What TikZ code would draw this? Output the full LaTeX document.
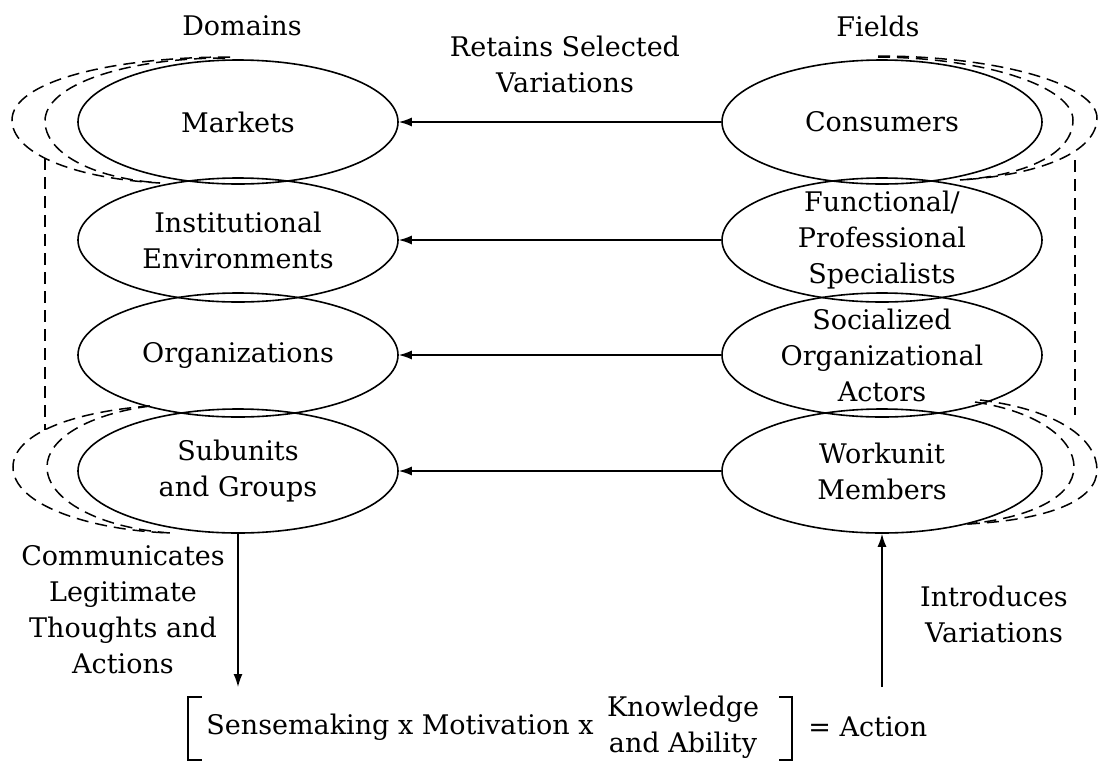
\documentclass[tikz,border=0pt]{standalone}
\usepackage{fontspec}
\setmainfont{DejaVu Serif}
\usetikzlibrary{shapes.geometric,arrows.meta,positioning}

\begin{document}
\begin{tikzpicture}[x=0.5pt,y=-0.5pt,
    elli/.style={draw, ellipse, line width=0.8pt, minimum width=160pt, minimum height=62pt, inner sep=0pt},
    lbl/.style={align=center, font=\fontsize{13.5}{18}\selectfont},
    arr/.style={line width=0.7pt, -{Latex[length=6.5pt,width=4.5pt]}},
    dsh/.style={line width=0.75pt, dash pattern=on 6pt off 3.5pt}]
                \useasboundingbox (0,0) rectangle (1099,762);
                % domains
                \node[elli] (mkt) at (238,122) {};
                \node[elli] (ins) at (238,240) {};
                \node[elli] (org) at (238,355) {};
                \node[elli] (sub) at (238,471) {};
                \node[lbl] (mkt-t) at (mkt) {Markets};
                \node[lbl] (ins-t) at (ins) {Institutional\\Environments};
                \node[lbl] (org-t) at (org) {Organizations};
                \node[lbl] (sub-t) at (sub) {Subunits\\and Groups};
                % fields
                \node[elli] (con) at (882,122) {};
                \node[elli] (fps) at (882,240) {};
                \node[elli] (soa) at (882,355) {};
                \node[elli] (wum) at (882,471) {};
                \node[lbl] (con-t) at (con) {Consumers};
                \node[lbl] (fps-t) at (fps) {Functional/\\Professional\\Specialists};
                \node[lbl] (soa-t) at (soa) {Socialized\\Organizational\\Actors};
                \node[lbl] (wum-t) at (wum) {Workunit\\Members};
                % headings
                \node[lbl] (dom) at (242,26) {Domains};
                \node[lbl] (fld) at (878,26) {Fields};
                \node[lbl] (ret) at (565,64) {Retains Selected\\Variations};
                \node[lbl] (comm) at (123,610) {Communicates\\Legitimate\\Thoughts and\\Actions};
                \node[lbl] (intro) at (994,614) {Introduces\\Variations};
                % retention
                \draw[arr] (con) -- (mkt);
                \draw[arr] (fps) -- (ins);
                \draw[arr] (soa) -- (org);
                \draw[arr] (wum) -- (sub);
                % action
                \coordinate (dn) at (238,687);
                \coordinate (up) at (882,687);
                \draw[arr] (sub) -- (dn);
                \draw[arr] (up) -- (wum);
                \node[lbl, anchor=base west, inner sep=0pt] (sens) at (206,734) {Sensemaking x Motivation x};
                \node[lbl, right=3pt of sens.east, anchor=west] (ka) {Knowledge\\and Ability};
                \node[lbl, anchor=base west, inner sep=0pt] (act) at (808,736) {= Action};
                \draw[line width=0.7pt] (202,697) -- (188,697) -- (188,760) -- (202,760);
                \draw[line width=0.7pt] (779,697) -- (792,697) -- (792,760) -- (779,760);
                % dashed loops
                \draw[dsh] (230,57) .. controls (110,57) and (12,82) .. (12,120) .. controls (12,152) and (70,178) .. (160,183);
                \draw[dsh] (225,58) .. controls (125,58) and (45,85) .. (45,121) .. controls (45,152) and (90,178) .. (160,183);
                \draw[dsh] (45,158) -- (45,430);
                \draw[dsh] (150,406) .. controls (70,412) and (13,435) .. (13,467) .. controls (13,505) and (90,530) .. (170,533);
                \draw[dsh] (150,406) .. controls (90,414) and (47,438) .. (47,467) .. controls (47,500) and (100,528) .. (170,533);
                \draw[dsh] (878,56) .. controls (1000,56) and (1097,85) .. (1097,118) .. controls (1097,152) and (1040,175) .. (960,180);
                \draw[dsh] (878,57) .. controls (990,58) and (1073,88) .. (1073,120) .. controls (1073,152) and (1030,175) .. (960,180);
                \draw[dsh] (1075,160) -- (1075,415);
                \draw[dsh] (980,400) .. controls (1060,410) and (1097,440) .. (1097,470) .. controls (1097,500) and (1050,520) .. (967,524);
                \draw[dsh] (975,402) .. controls (1040,412) and (1074,440) .. (1074,467) .. controls (1074,497) and (1030,518) .. (967,524);
\end{tikzpicture}
\end{document}
